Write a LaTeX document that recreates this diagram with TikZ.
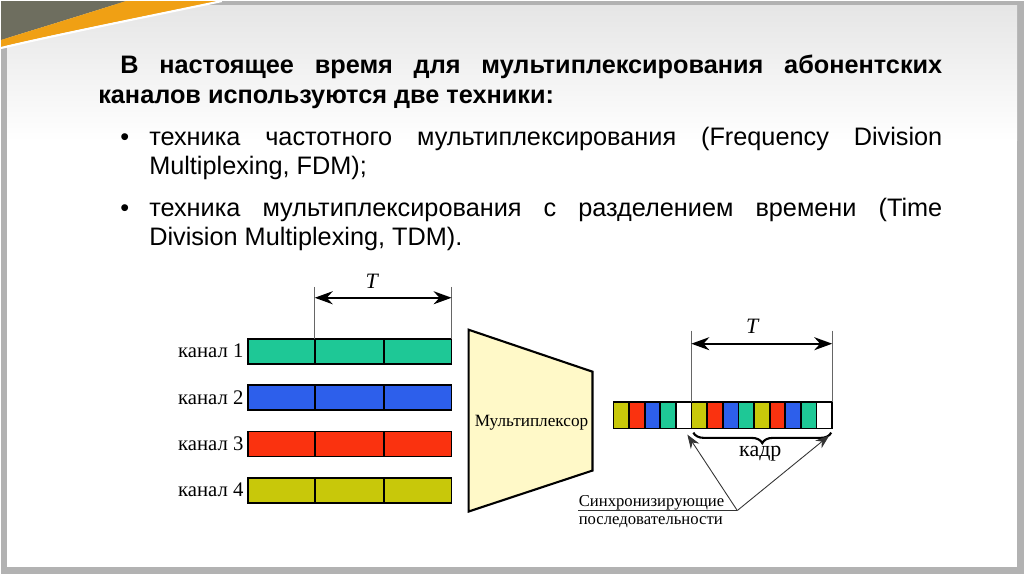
\documentclass[tikz,border=0pt]{standalone}
\usepackage{fontspec}
\setmainfont{Liberation Sans}
\newfontfamily\tms{Liberation Serif}
\usetikzlibrary{arrows.meta,decorations.pathreplacing}

\definecolor{chgreen}{RGB}{30,200,150}
\definecolor{chblue}{RGB}{45,95,235}
\definecolor{chred}{RGB}{250,50,15}
\definecolor{chyellow}{RGB}{200,200,10}
\definecolor{muxfill}{RGB}{255,249,200}
\definecolor{swoosh}{RGB}{240,160,20}
\definecolor{cornergrey}{RGB}{110,110,95}

\tikzset{
  txt/.style={inner sep=0pt, anchor=base west, font=\fontsize{14.4}{17}\selectfont},
  cell/.style={draw=black, line width=1pt},
  chlabel/.style={inner sep=0pt, anchor=east, font=\tms\fontsize{11.8}{14}\selectfont},
  dimline/.style={draw=black!60, line width=0.4pt},
  dimarrow/.style={{Stealth[length=3.6mm,width=2.6mm]}-{Stealth[length=3.6mm,width=2.6mm]}, line width=1.1pt},
  syncarrow/.style={-{Stealth[length=2.8mm,width=2mm]}, draw=black!80, line width=0.5pt}
}

\begin{document}
\begin{tikzpicture}[x=0.02cm, y=-0.02cm]
  % slide
  \fill[black!30] (0,0) rectangle (1024,574);
  \shade[top color=black!10, bottom color=white] (6,4) rectangle (1017,140);
  \fill[white] (6,140) rectangle (1017,567);
  \fill[cornergrey] (0,0) -- (125,0) .. controls (75,16) and (35,28) .. (0,39) -- cycle;
  \fill[swoosh] (0,39) .. controls (35,28) and (75,16) .. (125,0) -- (218,0)
    .. controls (130,18) and (50,34) .. (0,46) -- cycle;
  \draw[white, line width=1.2pt] (0,47) .. controls (50,35) and (130,19) .. (221,0);

  % text
  \node[txt] (title1) at (119,73) {\bfseries\makebox[16.46cm][s]{В настоящее время для мультиплексирования абонентских}};
  \node[txt] (title2) at (97,103) {\bfseries каналов используются две техники:};
  \node[txt] (dot1) at (119,145) {•};
  \node[txt] (fdm1) at (148,145) {\makebox[15.88cm][s]{техника частотного мультиплексирования (Frequency Division}};
  \node[txt] (fdm2) at (148,174) {Multiplexing, FDM);};
  \node[txt] (dot2) at (119,216) {•};
  \node[txt] (tdm1) at (148,216) {\makebox[15.88cm][s]{техника мультиплексирования с разделением времени (Time}};
  \node[txt] (tdm2) at (148,245) {Division Multiplexing, TDM).};

  % channels
  \foreach \c [count=\i] in {chgreen,chblue,chred,chyellow} {
    \pgfmathsetmacro\yt{338+(\i-1)*46.4}
    \draw[cell, fill=\c] (247,\yt) rectangle (314,\yt+25);
    \draw[cell, fill=\c] (314,\yt) rectangle (383,\yt+25);
    \draw[cell, fill=\c] (383,\yt) rectangle (451,\yt+25);
    \node[chlabel] (ch\i) at (243,\yt+12.5) {канал \i};
  }

  % T over the channels
  \coordinate (la) at (314,286);
  \coordinate (lb) at (451,286);
  \coordinate (la1) at (314,338);
  \coordinate (lb1) at (451,338);
  \coordinate (la2) at (314,297);
  \coordinate (lb2) at (451,297);
  \draw[dimline] (la) -- (la1);
  \draw[dimline] (lb) -- (lb1);
  \draw[dimarrow] (la2) -- (lb2);
  \node[inner sep=0pt, font=\tms\itshape\fontsize{12.5}{14}\selectfont] (tleft) at (371,281) {T};

  % multiplexer
  \draw[fill=muxfill, line width=1.2pt] (468,329) -- (592,371) -- (592,470) -- (468,511) -- cycle;
  \node[inner sep=0pt, font=\tms\fontsize{9.8}{11}\selectfont] (mux) at (531,422) {Мультиплексор};

  % output stream
  \foreach \c [count=\i] in {chyellow,chred,chblue,chgreen,white,chyellow,chred,chblue,chgreen,chyellow,chred,chblue,chgreen,white} {
    \draw[cell, fill=\c] ({613+(\i-1)*15.64},401) rectangle ({613+\i*15.64},428);
  }

  % T over the frame
  \coordinate (ra) at (691,330);
  \coordinate (rb) at (832,330);
  \coordinate (ra1) at (691,401);
  \coordinate (rb1) at (832,401);
  \coordinate (ra2) at (691,343);
  \coordinate (rb2) at (832,343);
  \draw[dimline] (ra) -- (ra1);
  \draw[dimline] (rb) -- (rb1);
  \draw[dimarrow] (ra2) -- (rb2);
  \node[inner sep=0pt, font=\tms\itshape\fontsize{12.5}{14}\selectfont] (tright) at (752,326) {T};

  % frame brace
  \coordinate (ba) at (693,432);
  \coordinate (bb) at (831,432);
  \draw[line width=1.2pt, decorate, decoration={brace, mirror, amplitude=6pt}] (ba) -- (bb);
  \node[inner sep=0pt, font=\tms\fontsize{12.5}{14}\selectfont] (kadr) at (760,453) {кадр};

  % sync sequences
  \node[inner sep=0pt, anchor=base west, font=\tms\fontsize{9.5}{11}\selectfont] (sync1) at (578,506) {Синхронизирующие};
  \node[inner sep=0pt, anchor=base west, font=\tms\fontsize{9.5}{11}\selectfont] (sync2) at (578,524) {последовательности};
  \coordinate (sv) at (737,510);
  \coordinate (su) at (578,510);
  \coordinate (s1) at (687,434);
  \coordinate (s2) at (829,435);
  \draw[draw=black!80, line width=0.5pt] (su) -- (sv);
  \draw[syncarrow] (sv) -- (s1);
  \draw[syncarrow] (sv) -- (s2);
\end{tikzpicture}
\end{document}
